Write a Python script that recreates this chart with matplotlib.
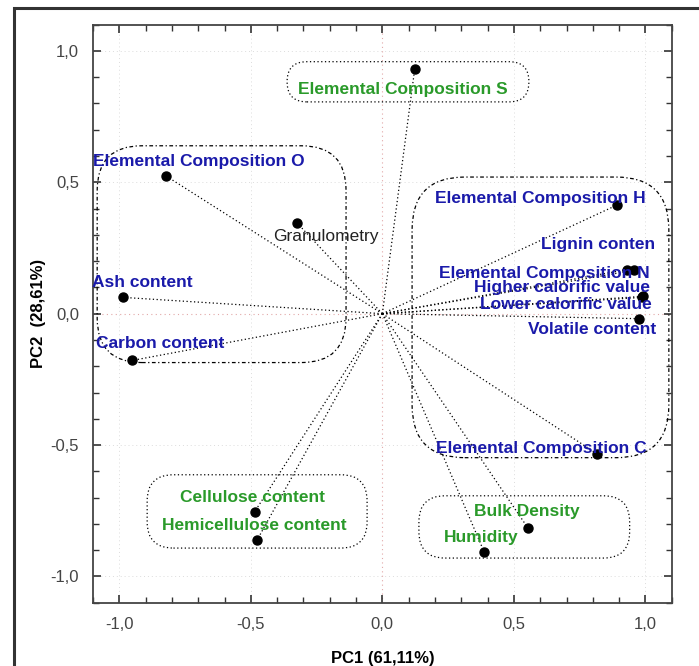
import matplotlib.pyplot as plt
import numpy as np
from matplotlib.patches import FancyBboxPatch, Rectangle
from matplotlib.ticker import FuncFormatter, MultipleLocator

plt.rcParams['font.family'] = ['Liberation Sans', 'DejaVu Sans']

# loadings
names = ["Elemental Composition S", "Elemental Composition O", "Granulometry",
         "Ash content", "Carbon content", "Elemental Composition H",
         "Lignin conten", "Elemental Composition N", "Higher calorific value",
         "Lower calorific value", "Volatile content", "Elemental Composition C",
         "Cellulose content", "Hemicellulose content", "Bulk Density", "Humidity"]
pc1 = [0.123, -0.822, -0.324, -0.985, -0.951, 0.891, 0.930, 0.956, 0.990,
       0.988, 0.977, 0.817, -0.485, -0.477, 0.553, 0.387]
pc2 = [0.931, 0.524, 0.345, 0.062, -0.178, 0.413, 0.168, 0.165, 0.066,
       0.062, -0.019, -0.534, -0.753, -0.863, -0.815, -0.907]
group = ["g", "b", "k", "b", "b", "b", "b", "b", "b", "b", "b", "b",
         "g", "g", "g", "g"]

# label offsets from each point, in pixels
offsets = [(-12, -20), (33, 14), (29, -13), (19, 15), (28, 17), (-76, 7),
           (-29, 25), (-90, -3), (-81, 9), (-76, -7), (-47, -11), (-56, 6),
           (-2, 14), (-3, 15), (-1, 16), (-3, 15)]

colors = {"b": "#1a1aaa", "g": "#2a9a2a", "k": "#222222"}

fig = plt.figure(figsize=(6.99, 6.66), dpi=100)
ax = fig.add_axes([0.133, 0.095, 0.828, 0.868])

# outer frame
fig.add_artist(Rectangle((0.02, -0.1), 1.1, 1.088, transform=fig.transFigure,
                         fill=False, lw=2.2, ec="#333333", clip_on=False))

ax.set_xlim(-1.1, 1.1)
ax.set_ylim(-1.1, 1.1)

# faint grid and origin lines
for v in [-1.0, -0.5, 0.5, 1.0]:
    ax.axvline(v, color="#dcdcdc", lw=0.7, ls=(0, (1, 3)), zorder=0)
    ax.axhline(v, color="#dcdcdc", lw=0.7, ls=(0, (1, 3)), zorder=0)
ax.axvline(0, color="#e2a8a8", lw=0.8, ls=(0, (1, 3)), zorder=0)
ax.axhline(0, color="#e2a8a8", lw=0.8, ls=(0, (1, 3)), zorder=0)

# vectors from origin
for x, y in zip(pc1, pc2):
    ax.plot([0, x], [0, y], color="black", lw=0.9, ls=(0, (1, 2)), zorder=2)
ax.plot(pc1, pc2, "o", color="black", ms=6.5, zorder=4)

for n, x, y, g, off in zip(names, pc1, pc2, group, offsets):
    ax.annotate(n, (x, y), xytext=off, textcoords="offset pixels",
                ha="center", va="center", fontsize=12.5, color=colors[g],
                fontweight="normal" if g == "k" else "bold", zorder=5)

# group enclosures (x0, y0, w, h, radius, style)
boxes = [(-0.362, 0.806, 0.919, 0.153, 0.075, (0, (1, 2))),
         (-1.084, -0.186, 0.946, 0.825, 0.17, (0, (3, 2, 1, 2))),
         (0.113, -0.548, 0.976, 1.068, 0.2, (0, (3, 2, 1, 2))),
         (-0.894, -0.892, 0.836, 0.279, 0.1, (0, (1, 2))),
         (0.139, -0.930, 0.801, 0.237, 0.1, (0, (1, 2)))]
for x0, y0, w, h, r, ls in boxes:
    ax.add_patch(FancyBboxPatch((x0, y0), w, h,
                                boxstyle=f"round,pad=0,rounding_size={r}",
                                fill=False, ec="black", lw=0.9, ls=ls, zorder=3))

comma = FuncFormatter(lambda v, p: f"{v:.1f}".replace(".", ","))
for a in (ax.xaxis, ax.yaxis):
    a.set_major_locator(MultipleLocator(0.5))
    a.set_minor_locator(MultipleLocator(0.1))
    a.set_major_formatter(comma)
ax.tick_params(which="both", direction="in", top=True, right=True,
               colors="#333333", labelsize=12, labelcolor="#444444", pad=10)
ax.tick_params(which="major", length=6, width=1.2)
ax.tick_params(which="minor", length=4, width=1)
for s in ax.spines.values():
    s.set_color("#444444")
    s.set_linewidth(1.3)

ax.set_xlabel("PC1 (61,11%)", fontsize=12, fontweight="bold", labelpad=14)
ax.set_ylabel("PC2  (28,61%)", fontsize=12, fontweight="bold", labelpad=3)

fig.savefig("out.png", dpi=100)
